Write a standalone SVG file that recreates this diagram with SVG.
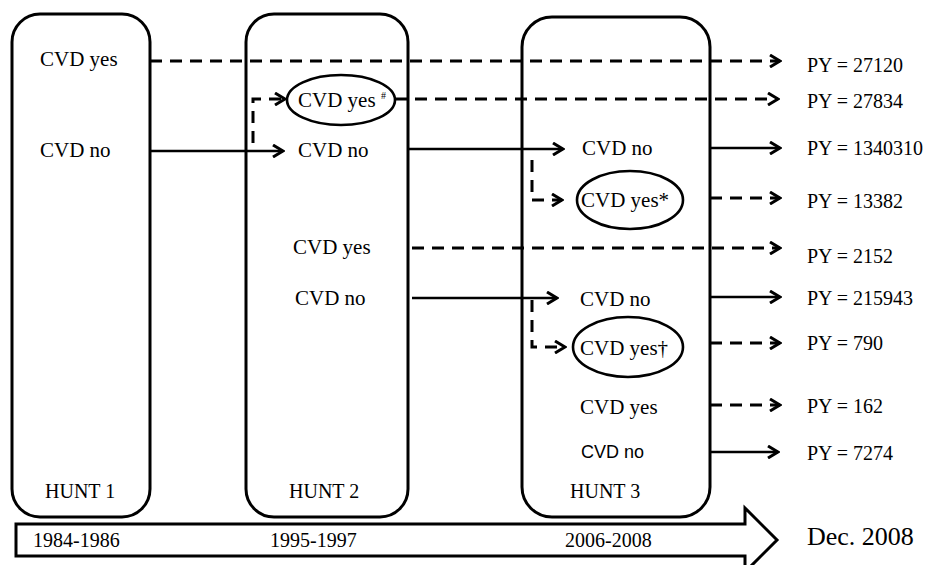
<svg xmlns="http://www.w3.org/2000/svg" width="930" height="565" viewBox="0 0 930 565">
<defs>
<marker id="arr" markerUnits="userSpaceOnUse" viewBox="0 0 14 14" refX="12" refY="7" markerWidth="14" markerHeight="14" orient="auto">
<path d="M2,1 L12,7 L2,13" fill="none" stroke="#000" stroke-width="3" stroke-dasharray="none"/>
</marker>
<style>
.box{fill:none;stroke:#000;stroke-width:3}
.ell{fill:none;stroke:#000;stroke-width:2.6}
.sol{fill:none;stroke:#000;stroke-width:2.6;marker-end:url(#arr)}
.dash{fill:none;stroke:#000;stroke-width:3;stroke-dasharray:12 8;marker-end:url(#arr)}
</style>
</defs>
<rect width="930" height="565" fill="#fff"/>

<g font-family="Liberation Serif, Times New Roman, serif" fill="#000">
<g id="timeline" font-size="20">
<polygon points="16,524 745,524 745,508 777,540 745,572 745,556 16,556" fill="#fff" stroke="#000" stroke-width="3"/>
<text x="33" y="547">1984-1986</text>
<text x="270" y="547">1995-1997</text>
<text x="565" y="547">2006-2008</text>
<text x="807" y="545" font-size="26">Dec. 2008</text>
</g>

<g id="hunt1" font-size="21">
<rect class="box" x="12" y="14" width="138" height="503" rx="28" ry="28"/>
<text x="40" y="66">CVD yes</text>
<text x="40" y="157">CVD no</text>
<text x="45" y="498" font-size="20">HUNT 1</text>
</g>

<g id="hunt2" font-size="21">
<rect class="box" x="246" y="14" width="162" height="503" rx="28" ry="28"/>
<ellipse class="ell" cx="341" cy="100" rx="54" ry="25"/>
<text x="298" y="107">CVD yes</text>
<text x="381" y="99" font-size="10">#</text>
<text x="298" y="157">CVD no</text>
<text x="293" y="254">CVD yes</text>
<text x="295" y="305">CVD no</text>
<text x="289" y="498" font-size="20">HUNT 2</text>
</g>

<g id="hunt3" font-size="21">
<rect class="box" x="522" y="17" width="188" height="500" rx="30" ry="30"/>
<text x="582" y="155">CVD no</text>
<ellipse class="ell" cx="630" cy="200" rx="53" ry="29"/>
<text x="581" y="207">CVD yes*</text>
<text x="580" y="306">CVD no</text>
<ellipse class="ell" cx="628" cy="347" rx="55" ry="30"/>
<text x="580" y="355">CVD yes†</text>
<text x="580" y="414">CVD yes</text>
<text x="581" y="458" font-family="Liberation Sans, Arial, sans-serif" font-size="18">CVD no</text>
<text x="570" y="498" font-size="20">HUNT 3</text>
</g>

<g id="results" font-size="20">
<text x="807" y="72">PY = 27120</text>
<text x="807" y="108">PY = 27834</text>
<text x="807" y="155">PY = 1340310</text>
<text x="807" y="208">PY = 13382</text>
<text x="807" y="263">PY = 2152</text>
<text x="807" y="305">PY = 215943</text>
<text x="807" y="350">PY = 790</text>
<text x="807" y="413">PY = 162</text>
<text x="807" y="460">PY = 7274</text>
</g>
</g>

<g id="connectors">
<path class="dash" d="M150,61 H780"/>
<path class="dash" d="M395,99 H778"/>
<path class="dash" d="M253,143 V99 H285"/>
<path class="sol" d="M150,151 H283"/>
<path class="sol" d="M408,149 H563"/>
<path class="dash" d="M532,160 V200 H562"/>
<path class="dash" d="M412,248 H780"/>
<path class="sol" d="M412,298 H557"/>
<path class="dash" d="M532,300 V347 H565"/>
<path class="sol" d="M710,148 H780"/>
<path class="dash" d="M710,198 H780"/>
<path class="sol" d="M710,297 H780"/>
<path class="dash" d="M710,343 H780"/>
<path class="dash" d="M710,405 H780"/>
<path class="sol" d="M710,452 H778"/>
</g>
</svg>
